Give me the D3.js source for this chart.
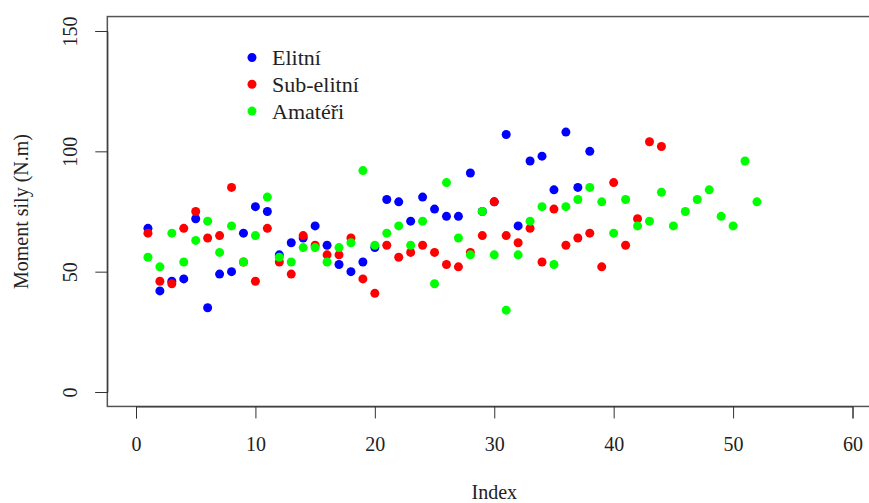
<!DOCTYPE html>
<html>
<head>
<meta charset="utf-8">
<script src="https://cdn.jsdelivr.net/npm/d3@7"></script>
<style>
  body { margin: 0; background: #fff; }
  svg text { font-family: "Liberation Serif", "DejaVu Serif", serif; fill: #222; }
</style>
</head>
<body>
<div id="chart"></div>
<script>
// values, index 1..n for each group
var elitni = [68, 42, 46, 47, 72, 35, 49, 50, 66, 77,
              75, 57, 62, 64, 69, 61, 53, 50, 54, 60,
              80, 79, 71, 81, 76, 73, 73, 91, 75, 79,
              107, 69, 96, 98, 84, 108, 85, 100];
var subElitni = [66, 46, 45, 68, 75, 64, 65, 85, 54, 46,
                 68, 54, 49, 65, 61, 57, 57, 64, 47, 41,
                 61, 56, 58, 61, 58, 53, 52, 58, 65, 79,
                 65, 62, 68, 54, 76, 61, 64, 66, 52, 87,
                 61, 72, 104, 102];
var amateri = [56, 52, 66, 54, 63, 71, 58, 69, 54, 65,
               81, 56, 54, 60, 60, 54, 60, 62, 92, 61,
               66, 69, 61, 71, 45, 87, 64, 57, 75, 57,
               34, 57, 71, 77, 53, 77, 80, 85, 79, 66,
               80, 69, 71, 83, 69, 75, 80, 84, 73, 69,
               96, 79];
var seriesNames = ["Elitní", "Sub-elitní", "Amatéři"];
var seriesColors = ["#0000ff", "#ff0000", "#00ff00"];
var xTicks = [0, 10, 20, 30, 40, 50, 60];
var yTicks = [0, 50, 100, 150];

var W = 869, H = 503;

var svg = d3.select("#chart")
    .append("svg")
    .attr("width", W)
    .attr("height", H);

// scales (R style: 4% padding around the limits)
var x = d3.scaleLinear().domain([0, 60]).range([136, 852.5]);
var y = d3.scaleLinear().domain([0, 150]).range([392, 31]);

var boxL = x(-2.4), boxR = x(62.4), boxT = y(156), boxB = y(-6);

// points, drawn in R order: elite first, amateurs on top
var groups = [elitni, subElitni, amateri];
groups.forEach(function(vals, gi) {
    svg.append("g")
        .selectAll("circle")
        .data(vals)
        .enter()
        .append("circle")
        .attr("cx", function(d, i) { return x(i + 1); })
        .attr("cy", function(d) { return y(d); })
        .attr("r", 4.5)
        .attr("fill", seriesColors[gi]);
});

// box
svg.append("rect")
    .attr("x", boxL)
    .attr("y", boxT)
    .attr("width", boxR - boxL)
    .attr("height", boxB - boxT)
    .attr("fill", "none")
    .attr("stroke", "#555")
    .attr("stroke-width", 1.5);

// X axis
var xAxis = svg.append("g")
    .attr("transform", "translate(0," + boxB + ")")
    .call(d3.axisBottom(x).tickValues(xTicks).tickSize(12).tickPadding(18));
xAxis.select(".domain").attr("stroke", "#333");
xAxis.selectAll(".tick line").attr("stroke", "#333");
xAxis.selectAll("text")
    .style("font-size", "20px")
    .attr("fill", "#222");

// Y axis, labels rotated like R's default las=0
var yAxis = svg.append("g")
    .attr("transform", "translate(" + boxL + ",0)")
    .call(d3.axisLeft(y).tickValues(yTicks).tickSize(12));
yAxis.select(".domain").attr("stroke", "#333");
yAxis.selectAll(".tick line").attr("stroke", "#333");
yAxis.selectAll("text")
    .attr("x", 0)
    .attr("dy", null)
    .attr("text-anchor", "middle")
    .attr("transform", "translate(-30,0) rotate(-90)")
    .style("font-size", "20px")
    .attr("fill", "#222");

// X label
svg.append("text")
    .attr("x", x(30))
    .attr("y", 499)
    .attr("text-anchor", "middle")
    .style("font-size", "20px")
    .text("Index");

// Y label
svg.append("text")
    .attr("text-anchor", "middle")
    .attr("transform", "translate(28," + ((boxT + boxB) / 2) + ") rotate(-90)")
    .style("font-size", "20px")
    .text("Moment sily (N.m)");

// legend
var legend = svg.append("g");
seriesNames.forEach(function(name, i) {
    var ly = 57.5 + i * 26.8;
    legend.append("circle")
        .attr("cx", 252)
        .attr("cy", ly)
        .attr("r", 4.5)
        .attr("fill", seriesColors[i]);
    legend.append("text")
        .attr("x", 272)
        .attr("y", ly)
        .attr("dy", "0.35em")
        .style("font-size", "22px")
        .text(name);
});
</script>
</body>
</html>
